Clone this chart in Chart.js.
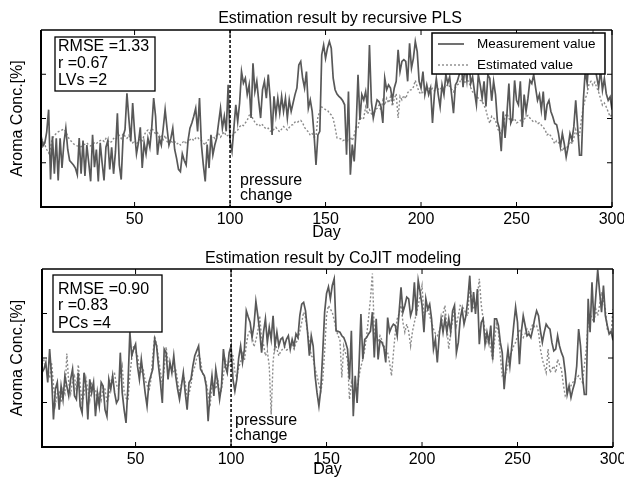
<!DOCTYPE html>
<html>
<head>
<meta charset="utf-8">
<script src="https://cdn.jsdelivr.net/npm/chart.js@4.4.0/dist/chart.umd.min.js"></script>
<style>
html,body{margin:0;padding:0;background:#fff;}
#wrap{position:relative;width:624px;height:482px;background:#fff;}
.pane{position:absolute;left:0;width:624px;height:241px;}
</style>
</head>
<body>
<div id="wrap">
  <div class="pane" style="top:0"><canvas id="canvasG1" width="624" height="241"></canvas></div>
  <div class="pane" style="top:241px"><canvas id="canvasG2" width="624" height="241"></canvas></div>
</div>
<script>
//데이터 (Day 1..300, Aroma Conc. 축 단위)
var xTicks = [50, 100, 150, 200, 250, 300];
var yTicks = [1, 2, 3];
var changeDay = 100;
var seriesNames = ["Measurement value", "Estimated value"];
var titleG1 = "Estimation result by recursive PLS";
var titleG2 = "Estimation result by CoJIT modeling";
var statsG1 = ["RMSE =1.33", "r =0.67", "LVs =2"];
var statsG2 = ["RMSE =0.90", "r =0.83", "PCs =4"];
var noteText = ["pressure", "change"];

var days = [];
for (var d = 1; d <= 300; d++) days.push(d);

//recursive PLS - 측정값
var measG1 = [
1.62,1.38,1.45,1.70,2.20,0.62,1.60,0.75,1.55,0.60,
1.55,0.88,1.45,1.78,1.30,1.05,1.00,0.95,0.88,0.73,
1.56,0.75,1.50,0.70,1.40,1.00,0.58,1.63,0.90,1.30,
0.58,1.45,1.00,0.60,1.35,1.50,0.85,1.35,0.75,1.25,
2.12,0.95,0.62,1.60,1.75,2.57,2.00,1.48,2.35,1.70,
1.20,1.45,1.80,0.88,1.45,1.20,1.55,1.35,1.80,2.46,
2.05,1.18,1.55,1.40,1.78,2.20,1.78,1.40,1.55,1.78,
1.30,1.10,0.85,0.80,1.20,1.05,0.95,1.50,1.78,1.90,
2.05,2.23,1.71,2.46,1.41,0.95,0.58,1.41,0.88,1.63,
1.18,1.40,1.56,1.90,2.23,1.78,2.05,1.71,2.76,1.48,
1.26,1.78,2.31,1.93,2.35,3.06,2.80,2.91,2.54,2.76,
2.01,3.25,2.61,2.84,2.40,2.01,2.65,2.84,2.46,2.99,
2.46,1.63,2.50,2.08,2.46,2.12,2.50,2.16,2.46,2.01,
2.42,2.16,2.35,2.54,2.69,3.21,3.29,2.91,2.69,3.06,
2.23,2.42,2.16,1.63,0.95,1.63,1.71,3.44,3.66,3.36,
3.59,3.74,3.59,2.91,2.65,2.55,2.50,2.46,2.40,2.31,
1.18,2.61,0.73,1.41,1.03,1.78,2.99,1.97,2.54,2.42,
2.61,2.23,3.66,2.38,2.01,2.23,2.42,2.38,2.27,1.90,
2.91,2.65,2.76,2.69,2.42,2.69,2.84,3.55,3.06,3.29,
3.33,3.29,2.84,3.70,3.14,3.36,3.74,3.51,2.84,2.69,
3.06,2.54,2.76,2.54,2.69,1.90,2.54,2.90,2.54,2.26,
2.76,2.54,2.99,2.80,2.94,2.54,2.12,2.76,2.84,2.99,
3.30,2.71,3.20,2.86,3.40,2.79,2.94,2.60,2.31,2.99,
2.76,2.46,2.84,2.27,2.99,2.91,2.40,2.84,2.54,1.93,
1.78,1.26,2.16,1.56,2.11,2.79,1.90,2.01,2.86,2.41,
2.31,2.84,1.81,2.54,2.16,2.46,2.86,2.79,2.99,2.69,
2.41,2.54,2.19,2.61,1.96,2.31,2.41,2.16,2.04,1.89,
1.86,1.66,1.36,1.66,1.43,1.13,1.36,1.66,1.51,1.81,
2.41,1.81,1.17,1.17,2.41,3.09,2.79,3.40,3.60,3.90,
3.20,2.94,2.71,3.10,2.64,2.90,2.56,2.41,2.49,2.20];

//recursive PLS - 추정값
var estG1 = [
1.55,1.50,1.40,1.30,1.22,1.35,1.55,1.62,1.66,1.70,
1.72,1.74,1.76,1.70,1.60,1.52,1.48,1.43,1.40,1.38,
1.37,1.36,1.40,1.42,1.45,1.40,1.38,1.42,1.45,1.43,
1.48,1.50,1.52,1.48,1.55,1.50,1.45,1.48,1.55,1.52,
1.58,1.62,1.55,1.66,1.60,1.55,1.62,1.50,1.45,1.50,
1.42,1.48,1.55,1.50,1.62,1.70,1.74,1.66,1.78,1.72,
1.65,1.68,1.55,1.60,1.52,1.62,1.48,1.43,1.50,1.45,
1.48,1.42,1.45,1.40,1.45,1.50,1.42,1.48,1.52,1.55,
1.50,1.56,1.58,1.52,1.50,1.45,1.40,1.50,1.52,1.56,
1.60,1.55,1.62,1.66,1.58,1.64,1.70,1.60,1.62,1.55,
1.60,1.66,1.70,1.74,1.81,1.86,1.84,1.90,1.96,2.07,
2.12,1.98,1.92,1.86,1.88,1.82,1.86,1.80,1.76,1.78,
1.72,1.70,1.76,1.80,1.74,1.70,1.76,1.82,1.78,1.74,
1.80,1.85,1.86,1.92,1.90,1.94,1.96,1.90,1.80,1.74,
1.70,1.62,1.66,1.58,1.60,2.04,2.16,2.26,2.23,2.20,
2.19,2.12,2.08,2.00,1.80,1.56,1.55,1.54,1.50,1.52,
1.51,1.48,1.58,1.50,1.62,1.81,1.78,2.04,1.98,2.01,
2.26,2.10,2.20,2.11,2.05,2.20,2.23,2.30,2.18,2.41,
2.30,2.46,2.35,2.49,2.28,2.45,2.56,2.01,2.50,2.42,
2.52,2.45,2.58,2.64,2.65,2.71,2.86,2.72,2.60,2.55,
2.62,2.58,2.66,2.70,2.64,2.68,2.62,2.72,2.66,2.70,
2.64,2.74,2.70,2.78,2.72,2.66,2.60,2.70,2.76,2.79,
2.90,2.86,2.82,2.86,2.84,2.70,2.60,2.56,2.50,2.46,
2.41,2.40,2.30,2.19,2.01,1.89,2.05,2.01,1.96,1.78,
1.70,1.66,1.85,2.05,2.11,2.00,1.96,1.96,2.00,1.90,
1.92,1.96,1.90,1.98,2.04,2.07,2.01,1.96,1.92,1.94,
1.88,1.90,1.85,1.80,1.74,1.63,1.66,1.60,1.52,1.43,
1.50,1.46,1.38,1.26,1.36,1.30,1.40,1.48,1.43,1.55,
1.75,1.60,1.62,2.00,2.26,2.45,2.56,2.79,2.84,2.75,
2.82,2.70,2.60,2.45,2.30,2.35,2.26,2.15,2.04,2.10];

//CoJIT - 측정값
var measG2 = [
1.67,1.75,1.90,1.45,2.20,1.60,0.62,1.30,1.45,0.84,
1.37,1.07,1.60,1.37,1.15,1.52,1.75,1.15,1.07,1.67,
0.92,0.77,1.67,1.37,0.62,1.52,1.22,1.45,0.69,1.22,
0.92,1.45,1.37,0.84,0.69,1.52,1.30,1.60,1.22,0.99,
1.07,2.12,1.22,0.84,0.54,1.37,2.58,2.05,2.20,2.31,
1.82,1.52,1.97,1.60,1.22,0.92,1.45,1.60,1.75,2.42,
2.27,1.82,1.45,0.99,2.20,2.12,1.52,1.90,1.67,2.05,
1.60,1.30,1.07,1.37,1.67,1.22,0.84,1.45,1.52,1.82,
2.05,2.16,2.27,1.75,1.67,1.60,1.37,0.58,1.22,1.60,
1.15,1.75,1.45,1.07,1.37,2.20,1.82,1.67,2.12,2.27,
1.52,1.26,1.52,2.00,2.27,1.90,2.20,3.06,2.92,2.80,
2.46,2.73,3.27,2.95,2.60,2.12,2.58,2.88,2.35,2.69,
2.42,2.95,2.27,2.58,2.27,2.42,2.46,2.27,2.42,2.50,
2.20,2.42,2.27,2.54,2.46,2.95,3.21,3.25,3.06,2.61,
2.05,2.50,2.27,1.60,1.22,0.92,1.30,2.12,3.03,3.45,
3.60,3.33,3.63,3.78,2.61,2.60,2.58,2.50,2.46,2.35,
2.20,1.52,2.61,0.69,1.60,0.99,1.82,2.99,1.97,2.42,
2.46,2.54,2.60,3.03,2.01,2.88,1.97,2.39,2.35,2.24,
1.90,2.91,2.58,2.69,2.76,2.73,2.50,3.03,3.59,3.03,
3.18,3.37,3.33,2.95,3.10,3.70,2.95,3.74,3.48,3.18,
2.58,3.33,3.10,3.21,2.88,2.20,2.42,1.90,2.50,2.88,
2.58,2.88,2.58,2.88,2.58,3.06,3.18,2.12,2.35,2.88,
3.10,2.76,2.95,3.33,3.85,3.03,3.48,2.99,3.55,2.31,
2.80,2.88,2.31,2.58,2.35,2.73,1.97,2.88,2.88,2.73,
2.35,2.12,1.30,1.82,2.20,1.82,2.27,2.73,3.14,2.80,
1.86,2.58,2.95,2.73,2.50,2.54,2.46,2.65,2.88,3.06,
2.95,2.61,2.35,2.58,2.76,2.69,2.65,2.35,2.16,2.20,
2.50,2.27,2.12,2.01,1.67,1.18,1.37,1.11,1.30,1.45,
1.82,2.65,2.27,1.60,1.18,1.18,3.33,2.58,3.70,2.80,
3.40,3.98,3.48,3.03,3.63,2.95,2.73,2.54,2.60,2.40];

//CoJIT - 추정값
var estG2 = [
1.85,1.95,1.80,1.70,1.55,1.90,1.40,0.95,1.20,1.25,
1.00,1.30,1.20,2.10,1.45,1.20,1.50,1.60,1.25,1.85,
1.40,1.00,1.15,1.55,1.30,1.05,1.45,1.30,1.30,1.00,
1.20,1.05,1.35,1.30,1.00,1.15,1.45,1.60,1.65,1.40,
1.30,1.60,1.82,1.25,1.10,1.05,1.60,2.00,2.27,2.15,
2.05,1.80,1.65,1.75,1.50,1.40,1.25,1.50,2.05,2.50,
2.30,2.00,1.70,1.40,1.75,2.25,1.90,1.85,1.80,1.70,
1.75,1.50,1.20,1.40,1.60,1.45,1.10,1.20,1.40,1.70,
1.80,2.00,2.10,1.95,1.65,1.60,1.45,1.20,0.90,1.40,
1.45,1.30,1.55,1.15,1.30,1.60,1.95,1.80,1.85,2.05,
2.05,1.70,1.55,1.80,1.90,2.10,1.95,2.30,2.55,2.62,
2.50,2.25,2.40,2.60,2.95,2.42,2.30,2.05,2.15,1.82,
0.73,1.90,2.35,2.20,2.05,2.15,2.20,2.25,2.18,2.20,
2.25,2.30,2.20,2.35,2.40,2.60,2.80,3.03,2.90,2.60,
2.35,2.05,2.00,1.75,1.60,1.40,1.25,1.50,2.15,2.95,
3.18,3.10,3.03,2.85,2.65,2.50,2.42,1.56,2.27,2.10,
1.97,1.07,1.45,1.22,1.35,1.30,1.60,1.80,1.97,2.20,
2.50,2.90,3.33,3.90,2.58,2.45,2.35,2.50,2.40,2.27,
2.20,2.12,1.90,1.60,2.10,2.58,2.88,3.00,3.18,2.80,
2.58,2.76,2.60,2.27,2.60,2.80,3.00,3.18,3.40,3.63,
2.95,3.05,3.10,2.95,2.80,2.65,2.55,2.50,2.60,2.73,
3.00,3.18,2.70,2.20,2.58,2.85,3.10,2.73,2.95,3.18,
3.15,3.10,3.00,2.95,3.70,3.30,3.10,3.18,3.40,3.78,
3.20,2.88,2.60,2.35,2.46,2.20,1.97,2.40,2.76,2.58,
2.05,1.60,1.65,1.67,1.85,2.05,2.15,2.27,2.35,2.50,
2.65,2.55,2.46,2.55,2.65,2.58,2.65,2.76,2.70,2.73,
2.58,2.20,1.97,1.82,1.67,2.20,1.67,1.75,1.82,1.67,
1.97,1.85,1.75,1.40,1.15,1.22,1.30,1.38,1.45,1.52,
1.55,1.60,1.52,1.45,1.82,2.20,2.80,2.99,2.90,2.80,
3.10,2.95,3.20,3.48,3.30,3.10,2.65,2.55,2.54,3.10];

var FONT = "'Liberation Sans', Arial, Helvetica, sans-serif";

function toPts(vals){
  return vals.map(function(v, i){ return { x: days[i], y: v }; });
}

function hline(c, x1, y1, x2, y2){
  c.beginPath(); c.moveTo(x1, y1); c.lineTo(x2, y2); c.stroke();
}

//프레임, 눈금, 텍스트 박스
var overlay = {
  id: 'overlay',
  afterDatasetsDraw: function(chart, args, o){
    var c = chart.ctx, a = chart.chartArea;
    var xs = chart.scales.x, ys = chart.scales.y;
    c.save();
    //압력 변경 점선
    var px = xs.getPixelForValue(changeDay);
    c.strokeStyle = '#000';
    c.lineWidth = 1.5;
    c.setLineDash([3, 2]);
    hline(c, px, a.top, px, a.bottom);
    c.setLineDash([]);
    //안쪽 눈금
    c.lineWidth = 1;
    xTicks.forEach(function(v){
      var x = xs.getPixelForValue(v);
      hline(c, x, a.top, x, a.top + 5);
      hline(c, x, a.bottom, x, a.bottom - 5);
    });
    yTicks.forEach(function(v){
      var y = ys.getPixelForValue(v);
      hline(c, a.left, y, a.left + 5, y);
      hline(c, a.right, y, a.right - 5, y);
    });
    //테두리
    c.lineWidth = 1.3;
    hline(c, a.left, a.top, a.right, a.top);
    hline(c, a.right, a.top, a.right, a.bottom);
    c.lineWidth = 2;
    hline(c, a.left, a.top, a.left, a.bottom + 1);
    hline(c, a.left - 1, a.bottom, a.right, a.bottom);

    //통계 박스
    var b = o.statBox;
    c.fillStyle = '#fff';
    c.fillRect(b[0], b[1], b[2], b[3]);
    c.lineWidth = 1.3;
    c.strokeRect(b[0], b[1], b[2], b[3]);
    c.fillStyle = '#000';
    c.font = '16px ' + FONT;
    c.textAlign = 'left';
    c.textBaseline = 'middle';
    o.stats.forEach(function(t, i){ c.fillText(t, o.statX, o.statY[i]); });

    //pressure change
    c.textBaseline = 'alphabetic';
    c.fillText(noteText[0], o.note[0], o.note[1]);
    c.fillText(noteText[1], o.note[0], o.note[2]);

    //범례
    if (o.legend){
      var L = o.legend;
      c.fillStyle = '#fff';
      c.fillRect(L[0], L[1], L[2], L[3]);
      c.strokeStyle = '#000';
      c.lineWidth = 1.5;
      c.strokeRect(L[0], L[1], L[2], L[3]);
      var ds = chart.data.datasets;
      c.lineWidth = ds[0].borderWidth;
      c.strokeStyle = ds[0].borderColor;
      hline(c, L[0] + 6, L[1] + 11, L[0] + 32, L[1] + 11);
      c.lineWidth = ds[1].borderWidth;
      c.strokeStyle = ds[1].borderColor;
      c.setLineDash(ds[1].borderDash);
      hline(c, L[0] + 6, L[1] + 32, L[0] + 36, L[1] + 32);
      c.setLineDash([]);
      c.fillStyle = '#000';
      c.font = '13.5px ' + FONT;
      c.textBaseline = 'middle';
      c.fillText(ds[0].label, L[0] + 45, L[1] + 11);
      c.fillText(ds[1].label, L[0] + 45, L[1] + 32);
    }
    c.restore();
  },
  afterDraw: function(chart, args, o){
    var c = chart.ctx, a = chart.chartArea;
    c.save();
    c.fillStyle = '#000';
    c.font = '16px ' + FONT;
    c.textAlign = 'center';
    c.textBaseline = 'middle';
    //제목
    c.fillText(o.title, o.titleX, o.titleY);
    c.fillText('Day', (a.left + a.right) / 2, o.dayY);
    c.translate(o.yLabelX, (a.top + a.bottom) / 2);
    c.rotate(-Math.PI / 2);
    c.fillText('Aroma Conc.[%]', 0, 0);
    c.restore();
  }
};

function makeChart(id, meas, est, cfg){
  var ctx = document.getElementById(id).getContext('2d');
  return new Chart(ctx, {
    type: 'line',
    data: {
      datasets: [
        { label: seriesNames[0], data: toPts(meas), borderColor: '#585858', borderWidth: 1.7,
          pointRadius: 0, tension: 0, fill: false },
        { label: seriesNames[1], data: toPts(est), borderColor: '#8a8a8a', borderWidth: 1.4,
          borderDash: [2, 2], pointRadius: 0, tension: 0, fill: false }
      ]
    },
    options: {
      responsive: false,
      animation: false,
      devicePixelRatio: 1,
      layout: { padding: { left: 0, right: cfg.padRight, top: cfg.padTop, bottom: 0 } },
      plugins: {
        legend: { display: false },
        tooltip: { enabled: false },
        title: { display: false },
        overlay: cfg
      },
      scales: {
        x: {
          type: 'linear', min: 1, max: 300,
          afterBuildTicks: function(s){ s.ticks = xTicks.map(function(v){ return { value: v }; }); },
          afterFit: function(s){ s.height = cfg.xHeight; s.paddingLeft = 0; s.paddingRight = 0; },
          grid: { display: false, drawTicks: false },
          border: { display: false },
          ticks: { color: '#000', font: { family: FONT, size: 16 }, padding: 3, maxRotation: 0, autoSkip: false }
        },
        y: {
          type: 'linear', min: 0, max: 4,
          afterBuildTicks: function(s){ s.ticks = yTicks.map(function(v){ return { value: v }; }); },
          afterFit: function(s){ s.width = cfg.yWidth; },
          grid: { display: false, drawTicks: false },
          border: { display: false },
          ticks: { display: false }
        }
      }
    },
    plugins: [overlay]
  });
}

//상단 챠트
makeChart('canvasG1', measG1, estG1, {
  title: titleG1, titleX: 340, titleY: 19, padTop: 30, padRight: 12, xHeight: 34, yWidth: 41,
  stats: statsG1, statBox: [55, 37, 100, 54], statX: 58, statY: [47, 64, 81],
  note: [240, 185, 200], legend: [432, 33, 173, 41], dayY: 233, yLabelX: 18
});
//하단 챠트
makeChart('canvasG2', measG2, estG2, {
  title: titleG2, titleX: 333, titleY: 17.5, padTop: 28, padRight: 11, xHeight: 35, yWidth: 42,
  stats: statsG2, statBox: [53, 34, 109, 57], statX: 58, statY: [48.5, 65, 82.5],
  note: [235, 184, 198.5], legend: null, dayY: 229, yLabelX: 18
});
</script>
</body>
</html>
